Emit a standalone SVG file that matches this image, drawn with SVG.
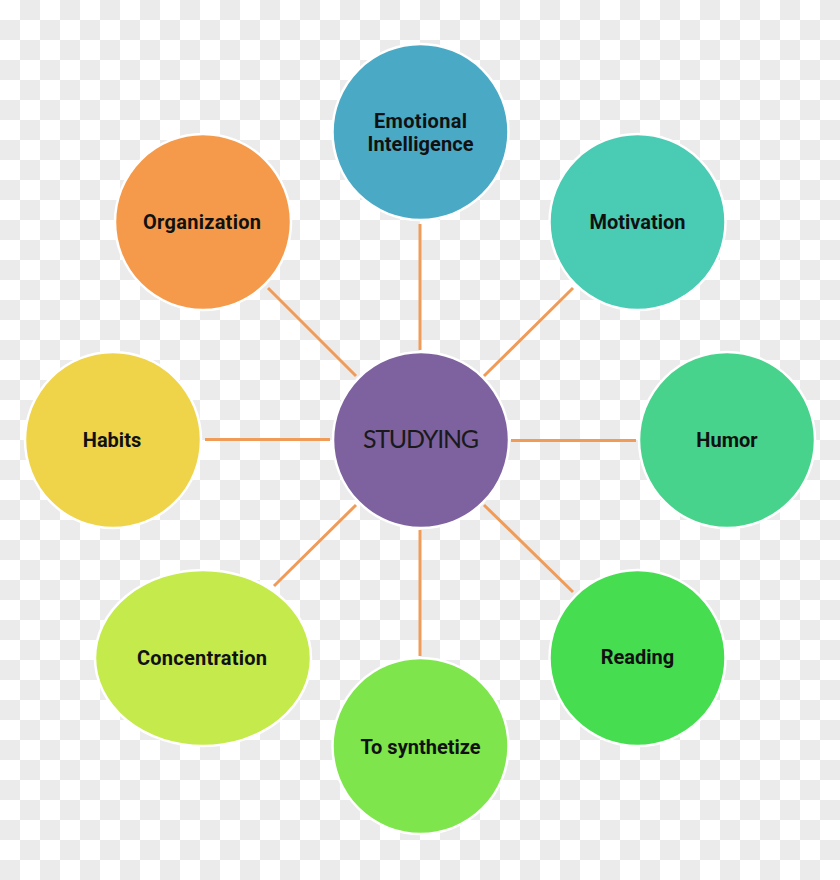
<svg xmlns="http://www.w3.org/2000/svg" width="840" height="880" viewBox="0 0 840 880">
<defs>
<pattern id="checker" x="0" y="0" width="40" height="40" patternUnits="userSpaceOnUse">
<rect x="0" y="0" width="40" height="40" fill="#ffffff"/>
<rect x="20" y="0" width="20" height="20" fill="#ebebeb"/>
<rect x="0" y="20" width="20" height="20" fill="#ebebeb"/>
</pattern>
<style>
.node{stroke:#ffffff;stroke-width:2.5}
.lbl{font-family:Roboto,"Liberation Sans",Arial,sans-serif;font-weight:bold;font-size:20px;fill:#111111;text-anchor:middle}
.ctr{font-family:Lato,"Open Sans","Liberation Sans",sans-serif;font-size:25px;fill:#1a1a1a;text-anchor:middle}
.conn{stroke:#f09c58;stroke-width:3;fill:none;stroke-linecap:butt}
</style>
</defs>
<rect x="0" y="0" width="840" height="880" fill="url(#checker)"/>
<g id="connectors">
<line class="conn" x1="420" y1="224" x2="420" y2="350"/>
<line class="conn" x1="484" y1="376" x2="573" y2="288"/>
<line class="conn" x1="511" y1="440.5" x2="636" y2="440.5"/>
<line class="conn" x1="484" y1="505" x2="573" y2="592"/>
<line class="conn" x1="420" y1="530" x2="420" y2="656"/>
<line class="conn" x1="356" y1="505" x2="274" y2="586"/>
<line class="conn" x1="205" y1="439.5" x2="330" y2="439.5"/>
<line class="conn" x1="356" y1="376" x2="268" y2="288"/>
</g>
<g id="studying">
<circle class="node" cx="421" cy="440" r="88" fill="#7e62a0"/>
<text class="ctr" x="421" y="448" textLength="116">STUDYING</text>
</g>
<g id="emotional-intelligence">
<circle class="node" cx="420.5" cy="132" r="88" fill="#4aaac6"/>
<text class="lbl" x="420.5" y="128" textLength="93">Emotional</text>
<text class="lbl" x="420.5" y="151" textLength="106">Intelligence</text>
</g>
<g id="motivation">
<circle class="node" cx="637.5" cy="222" r="88" fill="#49cbb4"/>
<text class="lbl" x="637.5" y="229">Motivation</text>
</g>
<g id="humor">
<circle class="node" cx="727" cy="440" r="88" fill="#48d38c"/>
<text class="lbl" x="727" y="447">Humor</text>
</g>
<g id="reading">
<circle class="node" cx="637.5" cy="658" r="88" fill="#47dd51"/>
<text class="lbl" x="637.5" y="664">Reading</text>
</g>
<g id="to-synthetize">
<circle class="node" cx="420.5" cy="746" r="88" fill="#7fe54c"/>
<text class="lbl" x="420.5" y="754">To synthetize</text>
</g>
<g id="concentration">
<ellipse class="node" cx="203" cy="658" rx="108" ry="88" fill="#c4ea4b"/>
<text class="lbl" x="202" y="665" textLength="130">Concentration</text>
</g>
<g id="habits">
<circle class="node" cx="113" cy="440" r="88" fill="#efd44a"/>
<text class="lbl" x="112" y="447">Habits</text>
</g>
<g id="organization">
<circle class="node" cx="203" cy="222" r="88" fill="#f59a4a"/>
<text class="lbl" x="202" y="229" textLength="118">Organization</text>
</g>
</svg>
